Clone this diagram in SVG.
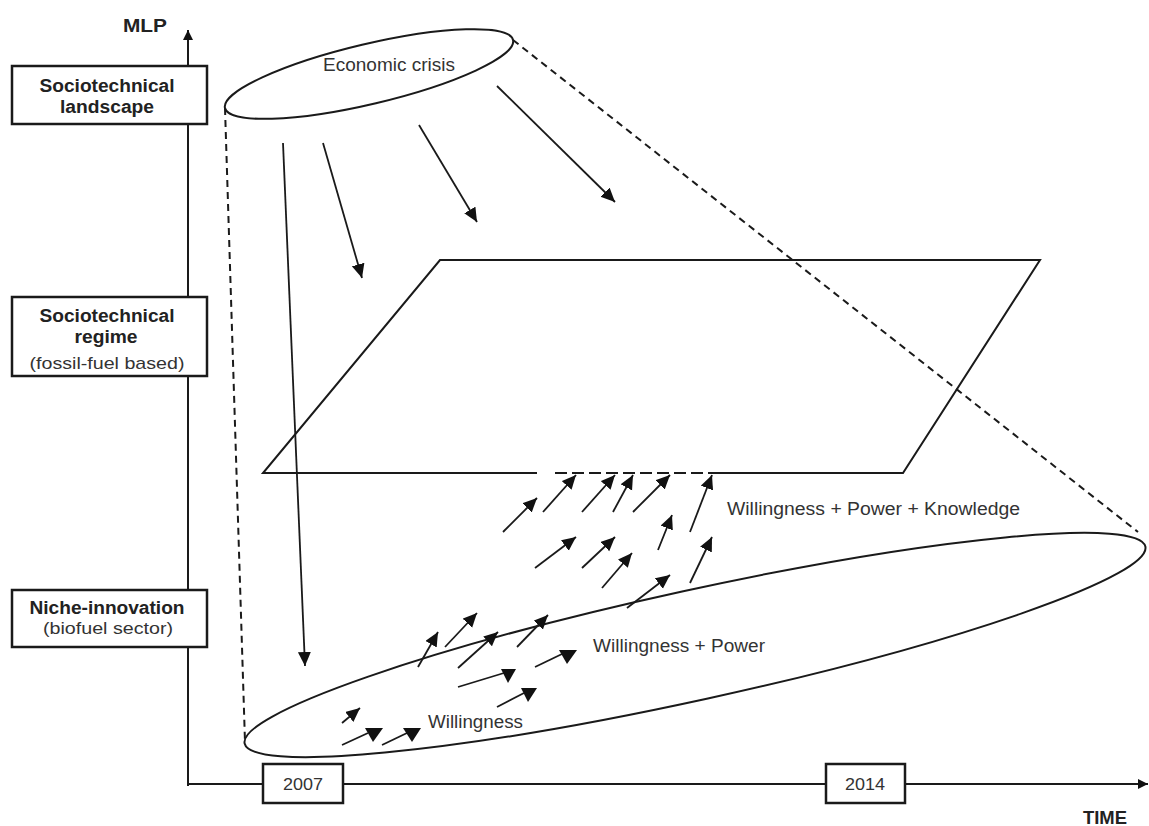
<svg xmlns="http://www.w3.org/2000/svg" width="1149" height="826" viewBox="0 0 1149 826">
<style>
.bx{fill:#fff;stroke:#1a1a1a;stroke-width:2.5}
.ln{fill:none;stroke:#1a1a1a;stroke-width:2}
.ds{fill:none;stroke:#1a1a1a;stroke-width:2;stroke-dasharray:7 5}
.ar{fill:none;stroke:#1a1a1a;stroke-width:1.8}
.tri{fill:#111}
.b{font-family:"Liberation Sans",Arial,sans-serif;font-weight:bold;font-size:18px;fill:#222;text-anchor:middle}
.t{font-family:"Liberation Sans",Arial,sans-serif;font-size:18px;fill:#333}
.tc{font-family:"Liberation Sans",Arial,sans-serif;font-size:17px;fill:#333;text-anchor:middle}
</style>
<defs>
<marker id="ah" markerUnits="userSpaceOnUse" markerWidth="16" markerHeight="14" refX="14" refY="6.5" orient="auto">
<path d="M0,0 L14,6.5 L0,13 z" fill="#111"/>
</marker>
<marker id="ax" markerUnits="userSpaceOnUse" markerWidth="12" markerHeight="12" refX="10" refY="5" orient="auto">
<path d="M0,0 L10,5 L0,10 z" fill="#111"/>
</marker>
</defs>
<rect width="1149" height="826" fill="#fff"/>

<g id="axes">
<line class="ln" x1="188" y1="786" x2="188" y2="30" stroke-width="2.5" marker-end="url(#ax)"/>
<line class="ln" x1="187" y1="784" x2="1148" y2="784" stroke-width="2.5" marker-end="url(#ax)"/>
<text class="b" x="145" y="32" font-size="16" textLength="44" lengthAdjust="spacingAndGlyphs">MLP</text>
<text class="b" x="1105" y="824" font-size="16" textLength="44" lengthAdjust="spacingAndGlyphs">TIME</text>
</g>

<g id="box-landscape">
<rect class="bx" x="12" y="66" width="195" height="58"/>
<text class="b" x="107" y="92" textLength="135" lengthAdjust="spacingAndGlyphs">Sociotechnical</text>
<text class="b" x="107" y="113" textLength="94" lengthAdjust="spacingAndGlyphs">landscape</text>
</g>

<g id="box-regime">
<rect class="bx" x="12" y="297" width="195" height="79"/>
<text class="b" x="107" y="322" textLength="135" lengthAdjust="spacingAndGlyphs">Sociotechnical</text>
<text class="b" x="106" y="343" textLength="63" lengthAdjust="spacingAndGlyphs">regime</text>
<text class="tc" x="107" y="369" textLength="155" lengthAdjust="spacingAndGlyphs">(fossil-fuel based)</text>
</g>

<g id="box-niche">
<rect class="bx" x="12" y="590" width="195" height="57"/>
<text class="b" x="107" y="614" textLength="155" lengthAdjust="spacingAndGlyphs">Niche-innovation</text>
<text class="tc" x="108" y="634" textLength="130" lengthAdjust="spacingAndGlyphs">(biofuel sector)</text>
</g>

<g id="year-2007">
<rect class="bx" x="263" y="764" width="80" height="39" stroke-width="2"/>
<text class="tc" x="303" y="790" textLength="40" lengthAdjust="spacingAndGlyphs">2007</text>
</g>
<g id="year-2014">
<rect class="bx" x="826" y="764" width="79" height="39" stroke-width="2"/>
<text class="tc" x="865" y="790" textLength="40" lengthAdjust="spacingAndGlyphs">2014</text>
</g>

<g id="cone">
<line class="ds" x1="225" y1="108" x2="245" y2="742"/>
<line class="ds" x1="513" y1="40" x2="1138" y2="532"/>
</g>

<g id="landscape-ellipse">
<ellipse class="ln" cx="369" cy="74" rx="148" ry="30" transform="rotate(-13.3 369 74)"/>
<text class="t" x="389" y="71" text-anchor="middle" textLength="132" lengthAdjust="spacingAndGlyphs">Economic crisis</text>
</g>

<g id="regime-plane">
<path class="ln" d="M537,473 L263,473 L440,260 L1040,260 L903,473 L712,473"/>
<line class="ln" x1="555" y1="473" x2="712" y2="473" stroke-dasharray="12 5"/>
</g>

<g id="niche-ellipse">
<ellipse class="ln" cx="695" cy="645" rx="461" ry="55" transform="rotate(-12.33 695 645)"/>
</g>

<g id="labels">
<text class="t" x="727" y="515" textLength="293" lengthAdjust="spacingAndGlyphs">Willingness + Power + Knowledge</text>
<text class="t" x="593" y="652" textLength="172" lengthAdjust="spacingAndGlyphs">Willingness + Power</text>
<text class="t" x="428" y="728" textLength="95" lengthAdjust="spacingAndGlyphs">Willingness</text>
</g>

<g id="connectors">
<line class="ar" x1="283" y1="143" x2="305" y2="666" marker-end="url(#ah)"/>
<line class="ar" x1="323" y1="143" x2="362" y2="278" marker-end="url(#ah)"/>
<line class="ar" x1="419" y1="125" x2="477" y2="222" marker-end="url(#ah)"/>
<line class="ar" x1="497" y1="86" x2="615" y2="202" marker-end="url(#ah)"/>

<line class="ar" x1="503" y1="532" x2="537" y2="498" marker-end="url(#ah)"/>
<line class="ar" x1="543" y1="512" x2="576" y2="475" marker-end="url(#ah)"/>
<line class="ar" x1="582" y1="512" x2="615" y2="475" marker-end="url(#ah)"/>
<line class="ar" x1="613" y1="512" x2="633" y2="475" marker-end="url(#ah)"/>
<line class="ar" x1="633" y1="512" x2="670" y2="475" marker-end="url(#ah)"/>
<line class="ar" x1="690" y1="532" x2="712" y2="475" marker-end="url(#ah)"/>
<line class="ar" x1="535" y1="568" x2="576" y2="537" marker-end="url(#ah)"/>
<line class="ar" x1="582" y1="568" x2="615" y2="537" marker-end="url(#ah)"/>
<line class="ar" x1="658" y1="550" x2="672" y2="515" marker-end="url(#ah)"/>
<line class="ar" x1="602" y1="588" x2="632" y2="553" marker-end="url(#ah)"/>
<line class="ar" x1="690" y1="583" x2="712" y2="537" marker-end="url(#ah)"/>
<line class="ar" x1="627" y1="608" x2="670" y2="575" marker-end="url(#ah)"/>

<line class="ar" x1="418" y1="667" x2="438" y2="632" marker-end="url(#ah)"/>
<line class="ar" x1="445" y1="647" x2="477" y2="613" marker-end="url(#ah)"/>
<line class="ar" x1="458" y1="668" x2="498" y2="632" marker-end="url(#ah)"/>
<line class="ar" x1="517" y1="647" x2="548" y2="615" marker-end="url(#ah)"/>
<line class="ar" x1="342" y1="723" x2="360" y2="708" marker-end="url(#ah)"/>

<line class="ar" x1="458" y1="687" x2="504" y2="673"/>
<polygon class="tri" points="501,669 516,669 508,683"/>
<line class="ar" x1="497" y1="707" x2="524" y2="693"/>
<polygon class="tri" points="521,688 537,688 528,702"/>
<line class="ar" x1="535" y1="667" x2="562" y2="654"/>
<polygon class="tri" points="559,650 577,650 567,664"/>
<line class="ar" x1="342" y1="745" x2="368" y2="733"/>
<polygon class="tri" points="365,728 383,728 373,742"/>
<line class="ar" x1="382" y1="745" x2="407" y2="733"/>
<polygon class="tri" points="403,728 421,728 412,742"/>
</g>
</svg>
